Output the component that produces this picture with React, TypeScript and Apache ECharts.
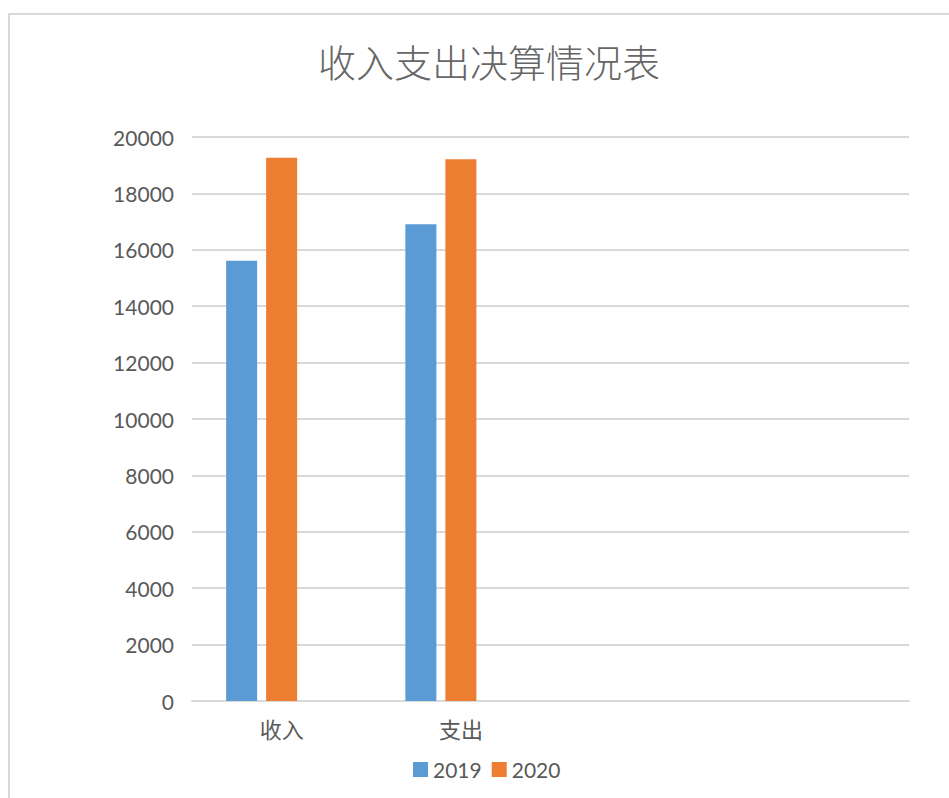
import React, { useEffect, useRef } from "react";
import * as echarts from "echarts";

const categories = ["收入", "支出", "", ""];
const seriesNames = ["2019", "2020"];
const values2019 = [15610, 16910, null, null];
const values2020 = [19260, 19210, null, null];
const valuesHidden = [null, null, null, null];
const titleText = "收入支出决算情况表";

export default function App() {
  const ref = useRef<HTMLDivElement>(null);
  useEffect(() => {
    if (!ref.current) return;
    const chart = echarts.init(ref.current, undefined, { renderer: "svg" });
    const labelFont = "Lato, 'Noto Sans CJK SC', sans-serif";
    chart.setOption({
      animation: false,
      backgroundColor: "#ffffff",
      title: {
        text: titleText,
        left: 484,
        top: 36,
        textAlign: "center",
        textStyle: {
          fontFamily: "'Noto Sans CJK SC', sans-serif",
          fontSize: 38,
          fontWeight: 300,
          color: "#666666",
        },
      },
      graphic: [
        {
          type: "rect",
          shape: { x: 9, y: 14, width: 1000, height: 900 },
          style: { fill: "none", stroke: "#d9d9d9", lineWidth: 2 },
          silent: true,
          z: -1,
        },
      ],
      legend: {
        data: seriesNames,
        left: 408,
        top: 754,
        itemWidth: 15,
        itemHeight: 15,
        itemGap: 10,
        icon: "rect",
        textStyle: { fontFamily: labelFont, fontSize: 21, color: "#595959" },
      },
      grid: { left: 192, right: 40, top: 137, bottom: 97, containLabel: false },
      xAxis: {
        type: "category",
        data: categories,
        axisLine: { show: true, lineStyle: { color: "#d9d9d9", width: 2 } },
        axisTick: { show: false },
        axisLabel: {
          margin: 16,
          fontFamily: "'Noto Sans CJK SC', sans-serif",
          fontSize: 22,
          color: "#595959",
        },
      },
      yAxis: {
        type: "value",
        min: 0,
        max: 20000,
        interval: 2000,
        axisLine: { show: false },
        axisTick: { show: false },
        splitLine: { lineStyle: { color: "#d9d9d9", width: 2 } },
        axisLabel: {
          margin: 18,
          fontFamily: labelFont,
          fontSize: 21,
          color: "#595959",
          formatter: (v: number) => String(v),
        },
      },
      series: [
        {
          name: seriesNames[0],
          type: "bar",
          data: values2019,
          barWidth: 31,
          barGap: "29%",
          itemStyle: { color: "#5B9BD5" },
        },
        {
          name: seriesNames[1],
          type: "bar",
          data: values2020,
          barWidth: 31,
          barGap: "29%",
          itemStyle: { color: "#ED7D31" },
        },
        {
          name: "",
          type: "bar",
          data: valuesHidden,
          barWidth: 31,
          barGap: "29%",
          itemStyle: { color: "#A5A5A5" },
        },
      ],
    });
    return () => chart.dispose();
  }, []);
  return (
    <div
      ref={ref}
      style={{ position: "absolute", left: 0, top: 0, width: 949, height: 798 }}
    />
  );
}
